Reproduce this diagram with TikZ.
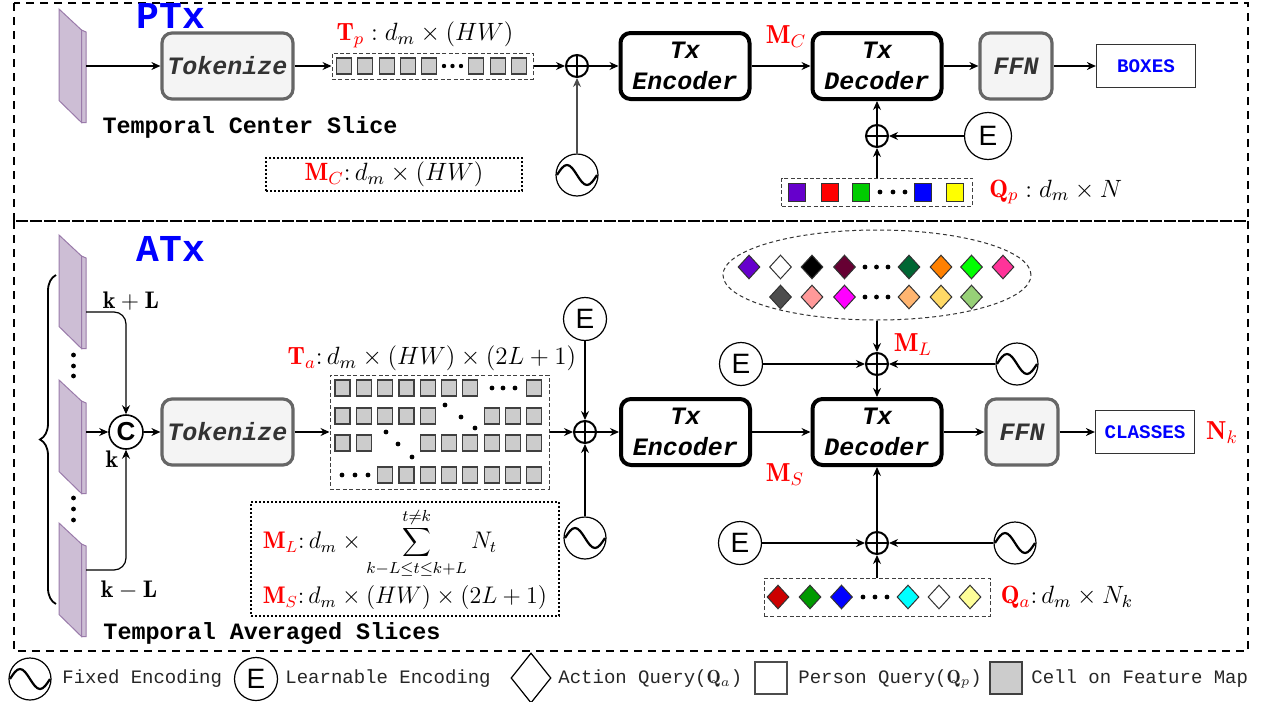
\RequirePackage{fix-cm}
\documentclass[tikz,border=0pt]{standalone}
\usepackage{fontspec}
\setmonofont{Liberation Mono}
\setsansfont{Liberation Sans}
\usepackage{tikz}
\usetikzlibrary{shapes.geometric, arrows.meta, positioning, decorations.pathreplacing}
\definecolor{slabfill}{HTML}{CDBED5}
\definecolor{slabdraw}{HTML}{9A7BAA}
\definecolor{cellfill}{HTML}{CCCCCC}
\definecolor{cmpfill}{HTML}{F4F4F4}
\definecolor{cmpdraw}{HTML}{666666}
\definecolor{hdblue}{HTML}{0000FF}
\definecolor{dimred}{HTML}{FF0000}
% query colours
\definecolor{qviolet}{HTML}{6600CC}
\definecolor{qred}{HTML}{FF0000}
\definecolor{qgreen}{HTML}{00CC00}
\definecolor{qblue}{HTML}{0000FF}
\definecolor{qyellow}{HTML}{FFFF00}
\definecolor{qmaroon}{HTML}{660033}
\definecolor{qpine}{HTML}{006633}
\definecolor{qorange}{HTML}{FF8000}
\definecolor{qlime}{HTML}{00FF00}
\definecolor{qpink}{HTML}{FF3399}
\definecolor{qgrey}{HTML}{4D4D4D}
\definecolor{qsalmon}{HTML}{FF9999}
\definecolor{qmagenta}{HTML}{FF00FF}
\definecolor{qpeach}{HTML}{FFB570}
\definecolor{qgold}{HTML}{FFD966}
\definecolor{qsage}{HTML}{97D077}
\definecolor{qcrimson}{HTML}{CC0000}
\definecolor{qleaf}{HTML}{009900}
\definecolor{qcyan}{HTML}{00FFFF}
\definecolor{qcream}{HTML}{FFFF99}
\tikzset{
  panel/.style={dash pattern=on 4pt off 3pt, line width=0.9pt},
  blk/.style={rectangle, rounded corners=5pt, align=center, inner sep=0pt, minimum height=33pt, font=\ttfamily\bfseries\itshape\fontsize{12.5}{15.5}\selectfont},
  tokbox/.style={blk, draw=cmpdraw, fill=cmpfill, line width=1.6pt, text=black!80, minimum width=65.5pt},
  txbox/.style={blk, draw=black, fill=white, line width=2pt, minimum width=64.5pt},
  ffnbox/.style={blk, draw=cmpdraw, fill=cmpfill, line width=1.6pt, text=black!80, minimum width=36pt},
  outbox/.style={rectangle, draw=black!80, line width=0.6pt, minimum width=49.5pt, minimum height=21.5pt, text=hdblue, font=\ttfamily\bfseries\fontsize{9.6}{11}\selectfont},
  seqbox/.style={rectangle, draw=black!75, dash pattern=on 2pt off 1.2pt, line width=0.5pt, inner sep=0pt},
  dimbox/.style={rectangle, draw=black, dash pattern=on 0.9pt off 1.1pt, line width=1pt, inner sep=2pt},
  tokcell/.style={rectangle, draw=black!75, fill=cellfill, line width=0.6pt, minimum width=7.5pt, minimum height=8pt, inner sep=0pt},
  qsq/.style={rectangle, draw=black!80, line width=0.5pt, minimum width=8.5pt, minimum height=9pt, inner sep=0pt},
  qdia/.style={diamond, draw=black!80, line width=0.5pt, minimum width=11pt, minimum height=12pt, inner sep=0pt},
  addop/.style={circle, draw, line width=1pt, minimum size=11pt, inner sep=0pt,
    path picture={\draw[line width=1pt] (path picture bounding box.north) -- (path picture bounding box.south)
      (path picture bounding box.west) -- (path picture bounding box.east);}},
  learnenc/.style={circle, draw, line width=0.6pt, minimum size=21.5pt, inner sep=0pt, font=\sffamily\fontsize{14}{14}\selectfont},
  fixenc/.style={circle, draw, line width=0.6pt, minimum size=21pt, inner sep=0pt,
    path picture={\draw[line width=1.1pt, shift={(path picture bounding box.center)}]
      (-10pt,0pt) sin (-5pt,5pt) cos (0pt,0pt) sin (5pt,-5pt) cos (10pt,0pt);}},
  catop/.style={circle, draw, line width=0.8pt, minimum size=17pt, inner sep=0pt, font=\sffamily\bfseries\fontsize{13}{13}\selectfont},
  head/.style={text=hdblue, font=\ttfamily\bfseries\fontsize{19}{19}\selectfont, inner sep=0pt},
  slicecap/.style={font=\ttfamily\bfseries\fontsize{11.7}{14}\selectfont, inner sep=0pt},
  dimlab/.style={font=\fontsize{12.5}{15}\selectfont, inner sep=0pt},
  idxlab/.style={font=\fontsize{12}{14}\selectfont, inner sep=0pt},
  redlab/.style={text=dimred, font=\fontsize{13}{15}\selectfont, inner sep=0pt},
  legtxt/.style={anchor=west, inner sep=0pt, text=black!85, font=\ttfamily\fontsize{9.5}{11}\selectfont},
  arr/.style={-{Stealth[length=4.5pt, width=4pt]}, line width=0.6pt},
  slab/.pic={
    \draw[slabdraw, fill=slabfill, line width=0.5pt] (0,0) -- (22.5,21) -- (22.5,113.5) -- (0,91.5) -- cycle;
    \draw[slabdraw, fill=slabfill, line width=0.5pt] (22.5,21) -- (27,23) -- (27,113.5) -- (22.5,113.5) -- cycle;
  },
}

\begin{document}
\begin{tikzpicture}[x=0.5pt, y=-0.5pt]
  \useasboundingbox (0,0) rectangle (1266,702);
  % the two branches
  \draw[panel] (14,3) rectangle (1248,221);
  \draw[panel] (14,221) rectangle (1248,651);
  \node[head] (ptx) at (171,16) {PTx};
  \node[head] (atx) at (171,249) {ATx};

  % ---- person branch ----
  \pic at (59,9) {slab};
  \coordinate (ctrout) at (86,66);
  \node[slicecap] (ctrcap) at (250,127) {Temporal Center Slice};
  \node[tokbox] (tok1) at (227.5,66) {Tokenize};
  \node[seqbox, minimum width=100.5pt, minimum height=13pt] (tprow) at (432.5,66) {};
  \foreach \cx [count=\i] in {344,365,387,408,429,476,498,519}
    \node[tokcell] (tp\i) at (\cx,66) {};
  \foreach \cx in {444,452.5,461} \fill (\cx,66) circle (1.1pt);
  \node[dimlab] (tplab) at (425,35) {$\textcolor{dimred}{\mathbf{T}_p}: d_m\times(HW)$};
  \node[addop] (add1) at (577,66) {};
  \node[fixenc] (fix1) at (577,175) {};
  \node[dimbox, minimum width=128pt, minimum height=16.5pt] (mcdim) at (394,174.5) {\fontsize{12.5}{15}\selectfont$\textcolor{dimred}{\mathbf{M}_C}\colon d_m\times(HW)$};
  \node[txbox] (enc1) at (685,66) {Tx\\Encoder};
  \node[txbox] (dec1) at (877,66) {Tx\\Decoder};
  \node[redlab] (mclab) at (786,37) {$\mathbf{M}_C$};
  \node[ffnbox] (ffn1) at (1016,66) {FFN};
  \node[outbox] (boxes) at (1146,66) {BOXES};
  \node[addop] (add2) at (877,136) {};
  \node[learnenc, minimum size=23.5pt] (le1) at (988,136) {E};
  \node[seqbox, minimum width=95.5pt, minimum height=14pt] (qprow) at (877,192) {};
  \foreach \cx/\col [count=\i] in {796.5/qviolet, 829.5/qred, 861/qgreen, 922.5/qblue, 954.5/qyellow}
    \node[qsq, fill=\col] (qp\i) at (\cx,192) {};
  \foreach \cx in {880,893,905} \fill (\cx,192) circle (1.2pt);
  \node[dimlab, right=8pt of qprow] (qplab) {$\textcolor{dimred}{\mathbf{Q}_p}: d_m\times N$};

  \draw[arr] (ctrout) -- (tok1);
  \draw[arr] (tok1) -- (tprow);
  \draw[arr] (tprow) -- (add1);
  \draw[arr, black!70] (fix1) -- (add1);
  \draw[arr] (add1) -- (enc1);
  \draw[arr] (enc1) -- (dec1);
  \draw[arr] (dec1) -- (ffn1);
  \draw[arr] (ffn1) -- (boxes);
  \draw[arr] (qprow) -- (add2);
  \draw[arr] (le1) -- (add2);
  \draw[arr] (add2) -- (dec1);

  % ---- action branch ----
  \pic at (59,235) {slab};
  \pic at (59,380) {slab};
  \pic at (59,523) {slab};
  \foreach \vy in {355,366,376,498,509,520} \fill (73.5,\vy) circle (1.2pt);
  \draw[decorate, decoration={brace, amplitude=8pt}, line width=0.9pt] (56,604) -- (56,275);
  \coordinate (slabhi) at (86,312);
  \coordinate (slabmid) at (86,432);
  \coordinate (slablo) at (86,570);
  \node[idxlab] (khi) at (131,301) {$\mathbf{k}+\mathbf{L}$};
  \node[idxlab] (kmid) at (112,459) {$\mathbf{k}$};
  \node[idxlab] (klo) at (129,590) {$\mathbf{k}-\mathbf{L}$};
  \node[catop] (cat) at (126,432) {C};
  \node[slicecap] (avgcap) at (272,633) {Temporal Averaged Slices};
  \node[tokbox] (tok2) at (227.5,432) {Tokenize};
  \node[seqbox, minimum width=109.5pt, minimum height=57pt] (tagrid) at (439.5,432) {};
  \foreach \r/\ry/\cols in {1/388/{0,1,2,3,4,5,6,9}, 2/416/{0,1,2,3,4,7,8,9}, 3/443/{0,1,4,5,6,7,8,9}, 4/475/{2,3,4,5,6,7,8,9}}
    \foreach \c in \cols \node[tokcell] (ta\r-\c) at ({342.5+21.3*\c},\ry) {};
  \foreach \dx/\dy in {492/388, 503/388, 515/388, 445/405, 461/417, 475/428, 386/432, 398/444, 412/457, 342/475, 355/475, 368/475}
    \fill (\dx,\dy) circle (1.2pt);
  \node[dimlab] (talab) at (432,358) {$\textcolor{dimred}{\mathbf{T}_a}\colon d_m\times(HW)\times(2L+1)$};
  \node[addop] (add3) at (585,432) {};
  \node[learnenc] (le2) at (585,319) {E};
  \node[fixenc] (fix2) at (585,538) {};
  \node[dimbox, minimum width=154pt, minimum height=57pt, align=left, font=\fontsize{12}{14}\selectfont] (mlsdim) at (405,559)
    {$\textcolor{dimred}{\mathbf{M}_L}\colon d_m\times\displaystyle\sum_{k-L\leq t\leq k+L}^{t\neq k} N_t$\\[3pt]
     $\textcolor{dimred}{\mathbf{M}_S}\colon d_m\times(HW)\times(2L+1)$};
  \node[txbox] (enc2) at (685.5,432) {Tx\\Encoder};
  \node[txbox] (dec2) at (877,432) {Tx\\Decoder};
  \node[ffnbox] (ffn2) at (1022,432) {FFN};
  \node[outbox] (classes) at (1145,432) {CLASSES};
  \node[redlab] (nklab) at (1222,433) {$\mathbf{N}_k$};
  \node[redlab] (mslab) at (785,475) {$\mathbf{M}_S$};
  \node[redlab] (mllab) at (913,345) {$\mathbf{M}_L$};
  % long-term query pool
  \node[ellipse, draw=black!80, dash pattern=on 2pt off 1.5pt, line width=0.5pt, minimum width=154pt, minimum height=45pt] (pool) at (877,275) {};
  \foreach \cx/\col [count=\i] in {749/qviolet, 780.5/white, 812/black, 844.5/qmaroon, 909/qpine, 941/qorange, 971.5/qlime, 1003/qpink}
    \node[qdia, fill=\col] (pa\i) at (\cx,267) {};
  \foreach \cx/\col [count=\i] in {780.5/qgrey, 812/qsalmon, 844.5/qmagenta, 909/qpeach, 941/qgold, 971.5/qsage}
    \node[qdia, fill=\col] (pb\i) at (\cx,297) {};
  \foreach \cx in {865,876.5,888} {\fill (\cx,267) circle (1.2pt); \fill (\cx,297) circle (1.2pt);}
  \node[addop] (add4) at (877,364) {};
  \node[learnenc] (le3) at (741,364) {E};
  \node[fixenc] (fix3) at (1017,364) {};
  \node[addop] (add5) at (877,543) {};
  \node[learnenc] (le4) at (740,543) {E};
  \node[fixenc] (fix4) at (1015,543) {};
  \node[seqbox, minimum width=113pt, minimum height=19pt] (qarow) at (877,597) {};
  \foreach \cx/\col [count=\i] in {778/qcrimson, 810/qleaf, 841.5/qblue, 908/qcyan, 939/white, 970/qcream}
    \node[qdia, fill=\col] (qa\i) at (\cx,597) {};
  \foreach \cx in {863,875,887} \fill (\cx,597) circle (1.2pt);
  \node[dimlab, right=5pt of qarow] (qalab) {$\textcolor{dimred}{\mathbf{Q}_a}\colon d_m\times N_k$};

  \draw[arr, rounded corners=6pt] (slabhi) -| (cat);
  \draw[arr] (slabmid) -- (cat);
  \draw[arr, rounded corners=6pt] (slablo) -| (cat);
  \draw[arr] (cat) -- (tok2);
  \draw[arr] (tok2) -- (tagrid);
  \draw[arr] (tagrid) -- (add3);
  \draw[arr] (le2) -- (add3);
  \draw[arr] (fix2) -- (add3);
  \draw[arr] (add3) -- (enc2);
  \draw[arr] (enc2) -- (dec2);
  \draw[arr] (dec2) -- (ffn2);
  \draw[arr] (ffn2) -- (classes);
  \draw[arr] (pool) -- (add4);
  \draw[arr] (le3) -- (add4);
  \draw[arr] (fix3) -- (add4);
  \draw[arr] (add4) -- (dec2);
  \draw[arr] (qarow) -- (add5);
  \draw[arr] (le4) -- (add5);
  \draw[arr] (fix4) -- (add5);
  \draw[arr] (add5) -- (dec2);

  % legend
  \node[fixenc] (lgfix) at (30,679) {};
  \node[legtxt] (lgfixt) at (62,679) {Fixed Encoding};
  \node[learnenc] (lgenc) at (256,679) {E};
  \node[legtxt] (lgenct) at (285,679) {Learnable Encoding};
  \node[diamond, draw, line width=0.6pt, minimum width=20pt, minimum height=25pt, inner sep=0pt] (lgdia) at (531,678) {};
  \node[legtxt] (lgdiat) at (558,679) {Action Query($\mathbf{Q}_a$)};
  \node[rectangle, draw=black!70, line width=0.6pt, minimum size=16pt, inner sep=0pt] (lgsq) at (771,678) {};
  \node[legtxt] (lgsqt) at (798,679) {Person Query($\mathbf{Q}_p$)};
  \node[tokcell, minimum size=16pt] (lgcell) at (1006,678) {};
  \node[legtxt] (lgcellt) at (1031,679) {Cell on Feature Map};
\end{tikzpicture}
\end{document}
